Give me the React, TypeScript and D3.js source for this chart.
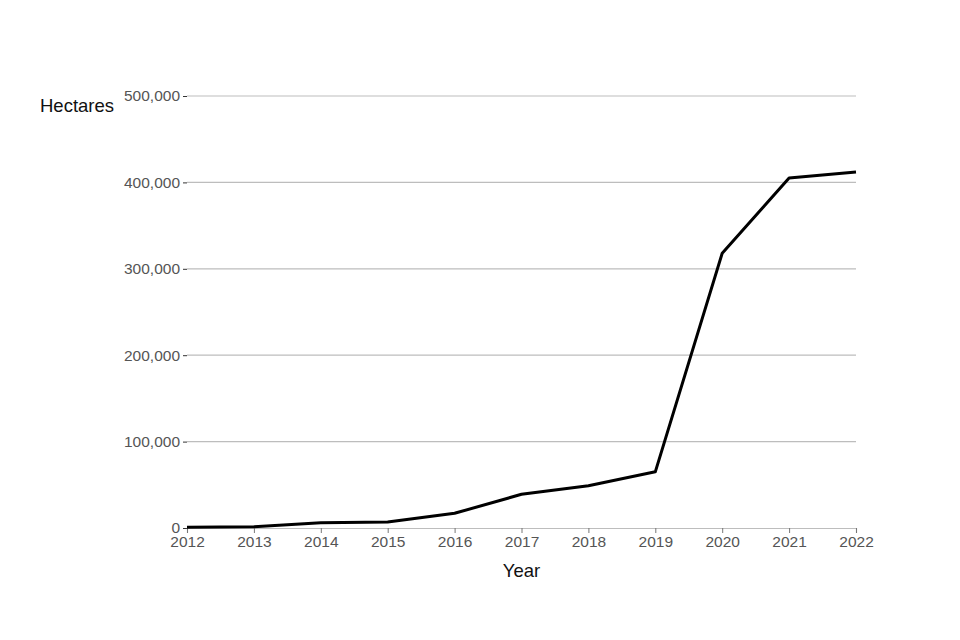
import { useEffect, useRef } from 'react';
import * as d3 from 'd3';

const years = [2012, 2013, 2014, 2015, 2016, 2017, 2018, 2019, 2020, 2021, 2022];
const hectares = [1000, 1500, 6000, 7000, 17000, 39000, 49000, 65000, 318000, 405000, 412000];
const yTicks = [0, 100000, 200000, 300000, 400000, 500000];

export default function App() {
  const ref = useRef<SVGSVGElement>(null);

  useEffect(() => {
    const svg = d3.select(ref.current);
    svg.selectAll('*').remove();

    const margin = { top: 96, right: 104, bottom: 112, left: 187 };
    const width = 960 - margin.left - margin.right;
    const height = 640 - margin.top - margin.bottom;
    const font = 'Arial, "Liberation Sans", sans-serif';

    const g = svg.append('g').attr('transform', `translate(${margin.left},${margin.top})`);

    const x = d3.scaleLinear().domain([2012, 2022]).range([0, width]);
    const y = d3.scaleLinear().domain([0, 500000]).range([height, 0]);

    // gridlines
    g.selectAll('.grid')
      .data(yTicks.filter(d => d > 0))
      .enter().append('line')
      .attr('x1', 0)
      .attr('x2', width)
      .attr('y1', d => y(d))
      .attr('y2', d => y(d))
      .attr('stroke', '#bdbdbd')
      .attr('stroke-width', 1.2);

    // y axis (ticks and labels only)
    const yAxis = g.append('g')
      .call(d3.axisLeft(y).tickValues(yTicks).tickSize(4).tickPadding(3)
        .tickFormat(d => d3.format(',')(d as number)));
    yAxis.select('.domain').remove();
    yAxis.selectAll('line').attr('stroke', '#333');
    yAxis.selectAll('text')
      .attr('fill', '#555')
      .attr('font-size', 15.5)
      .attr('font-family', font);

    // x axis
    const xAxis = g.append('g')
      .attr('transform', `translate(0,${height})`)
      .call(d3.axisBottom(x).tickValues(years).tickSize(5).tickPadding(3)
        .tickFormat(d => String(d)));
    xAxis.select('.domain').attr('stroke', '#bdbdbd').attr('stroke-width', 1.2);
    xAxis.selectAll('line').attr('stroke', '#777');
    xAxis.selectAll('text')
      .attr('fill', '#555')
      .attr('font-size', 15.5)
      .attr('font-family', font);

    // line
    const line = d3.line<number>()
      .x((d, i) => x(years[i]))
      .y(d => y(d));

    g.append('path')
      .datum(hectares)
      .attr('fill', 'none')
      .attr('stroke', '#000')
      .attr('stroke-width', 3)
      .attr('stroke-linejoin', 'round')
      .attr('d', line);

    // axis titles
    svg.append('text')
      .attr('x', 40)
      .attr('y', 112)
      .attr('font-size', 18.5)
      .attr('font-family', font)
      .attr('fill', '#111')
      .text('Hectares');

    svg.append('text')
      .attr('x', margin.left + width / 2)
      .attr('y', 577)
      .attr('text-anchor', 'middle')
      .attr('font-size', 18.5)
      .attr('font-family', font)
      .attr('fill', '#111')
      .text('Year');
  }, []);

  return (
    <svg ref={ref} width={960} height={640}
      style={{ position: 'absolute', left: 0, top: 0, background: '#fff' }} />
  );
}
